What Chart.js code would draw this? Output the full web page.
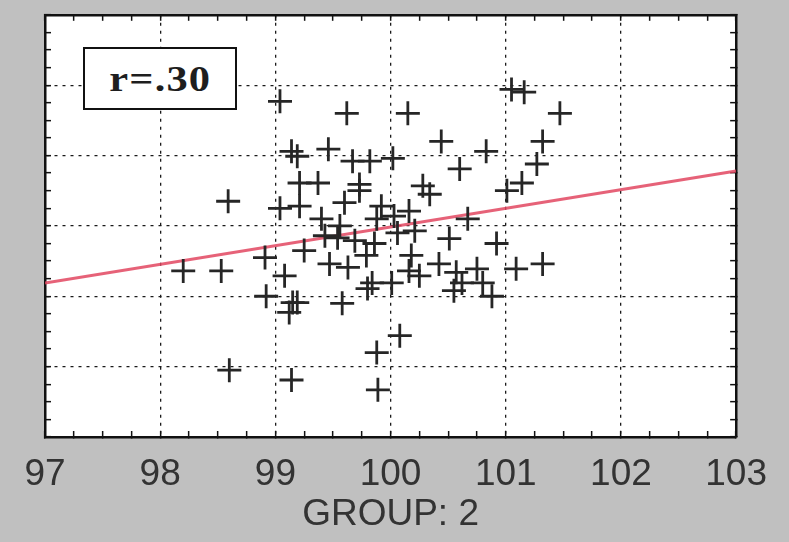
<!DOCTYPE html>
<html>
<head>
<meta charset="utf-8">
<script src="https://cdn.jsdelivr.net/npm/chart.js@4.4.1/dist/chart.umd.min.js"></script>
<style>
html,body{margin:0;padding:0;background:#c0c0c0;}
#wrap{position:relative;width:789px;height:542px;overflow:hidden;}
canvas{display:block;}
#rbox{position:absolute;left:83px;top:47px;width:154px;height:63px;box-sizing:border-box;border:2.5px solid #111;background:#fff;display:flex;align-items:center;justify-content:center;}
#rbox span{font-family:"Liberation Serif",serif;font-weight:bold;font-size:36px;color:#1e1e1e;display:inline-block;transform:scaleX(1.18);letter-spacing:1px;}
</style>
</head>
<body>
<div id="wrap">
<canvas id="c" width="789" height="542"></canvas>
<div id="rbox"><span id="rtext"></span></div>
</div>
<script>
// ---- data ----
const groupX = [99.04, 99.62, 100.15, 101.05, 101.16, 101.47, 100.44, 101.32, 100.83, 99.14,
  99.19, 99.46, 99.67, 99.82, 100.02, 100.60, 101.27, 99.21, 99.37, 99.73,
  100.28, 100.34, 101.14, 101.01, 98.59, 99.04, 99.21, 99.60, 99.73, 99.92,
  100.16, 99.40, 99.88, 100.03, 100.67, 99.43, 99.54, 99.69, 99.86, 100.06,
  100.92, 100.51, 98.91, 99.25, 100.18, 99.79, 99.47, 99.63, 98.20, 98.53,
  100.42, 100.57, 100.75, 101.09, 101.32, 100.16, 99.84, 100.01, 100.62, 100.80,
  98.92, 99.15, 99.19, 99.12, 99.58, 99.80, 100.88, 100.08, 99.88, 98.60,
  99.14, 99.89, 99.08, 100.55, 100.25, 99.56, 100.21];
const groupY = [101.77, 101.60, 101.60, 101.94, 101.90, 101.60, 101.20, 101.20, 101.06, 101.06,
  100.99, 101.09, 100.92, 100.92, 100.96, 100.81, 100.88, 100.61, 100.61, 100.59,
  100.57, 100.45, 100.61, 100.50, 100.35, 100.25, 100.28, 100.33, 100.50, 100.28,
  100.21, 100.10, 100.10, 100.14, 100.10, 99.86, 99.83, 99.79, 99.75, 99.90,
  99.75, 99.82, 99.55, 99.65, 99.58, 99.58, 99.46, 99.41, 99.36, 99.36,
  99.46, 99.34, 99.39, 99.39, 99.46, 99.36, 99.19, 99.19, 99.19, 99.19,
  99.00, 98.91, 98.91, 98.77, 98.90, 99.11, 99.00, 98.44, 98.20, 97.95,
  97.81, 97.67, 99.29, 99.08, 99.29, 100.00, 99.93];
const fitX = [97, 103];
const fitY = [99.19, 100.78];
const xTickLabels = ['97', '98', '99', '100', '101', '102', '103'];
const axisMin = 97;
const axisMax = 103;
const xTitle = 'GROUP: 2';
const corrLabel = 'r=.30';

// ---- chart ----
document.getElementById('rtext').textContent = corrLabel;
const points = groupX.map((x, i) => ({x: x, y: groupY[i]}));
const fitLine = fitX.map((x, i) => ({x: x, y: fitY[i]}));
const isMajor = v => Math.abs(v - Math.round(v)) < 1e-6;

const plotBg = {
  id: 'plotBg',
  beforeDraw(chart) {
    const a = chart.chartArea, ctx = chart.ctx;
    ctx.save();
    ctx.fillStyle = '#ffffff';
    ctx.fillRect(a.left, a.top, a.right - a.left, a.bottom - a.top);
    ctx.restore();
  }
};

const minorGrid = (drawArea) => ({
  drawOnChartArea: drawArea,
  color: c => (c.tick && isMajor(c.tick.value)) ? '#1a1a1a' : 'rgba(0,0,0,0)',
  lineWidth: 1.3,
  tickColor: '#111',
  tickWidth: 1.5,
  tickLength: -6
});
const borderOpt = {display: true, color: '#111', width: 2.5, dash: [3, 5]};

new Chart(document.getElementById('c'), {
  data: {
    datasets: [
      {
        type: 'line',
        data: fitLine,
        borderColor: 'rgba(226,70,96,0.85)',
        borderWidth: 3,
        pointRadius: 0,
        order: 2
      },
      {
        type: 'scatter',
        data: points,
        pointStyle: 'cross',
        pointRadius: 12,
        borderWidth: 2.8,
        borderColor: '#262626',
        backgroundColor: '#262626',
        order: 1
      }
    ]
  },
  options: {
    responsive: false,
    animation: false,
    events: [],
    layout: {padding: {left: 45, top: 13, right: 52, bottom: 0}},
    plugins: {legend: {display: false}, tooltip: {enabled: false}},
    scales: {
      x: {
        type: 'linear', position: 'bottom', min: axisMin, max: axisMax,
        grid: minorGrid(true),
        border: borderOpt,
        ticks: {
          stepSize: 0.25, autoSkip: false, maxRotation: 0, padding: 22,
          color: '#333333',
          font: {family: '"Liberation Sans", Arial, sans-serif', size: 37},
          callback: v => isMajor(v) ? xTickLabels[Math.round(v) - axisMin] : ''
        },
        title: {
          display: true, text: xTitle, color: '#333333',
          font: {family: '"Liberation Sans", Arial, sans-serif', size: 37},
          padding: {top: 0, bottom: 5}
        },
        afterFit: s => { s.height = 105; }
      },
      y: {
        type: 'linear', position: 'left', min: axisMin, max: axisMax,
        grid: minorGrid(true),
        border: borderOpt,
        ticks: {stepSize: 0.25, display: false},
        afterFit: s => { s.width = 0; }
      },
      x2: {
        type: 'linear', position: 'top', min: axisMin, max: axisMax,
        grid: minorGrid(false),
        border: borderOpt,
        ticks: {stepSize: 0.25, display: false},
        afterFit: s => { s.height = 0; }
      },
      y2: {
        type: 'linear', position: 'right', min: axisMin, max: axisMax,
        grid: minorGrid(false),
        border: borderOpt,
        ticks: {stepSize: 0.25, display: false},
        afterFit: s => { s.width = 0; }
      }
    }
  },
  plugins: [plotBg]
});
</script>
</body>
</html>
